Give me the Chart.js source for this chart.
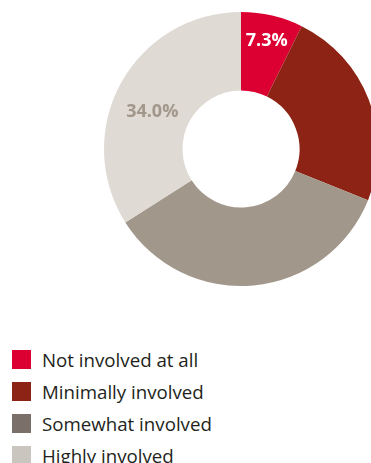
<!DOCTYPE html>
<html>
<head>
<meta charset="utf-8">
<script src="https://cdn.jsdelivr.net/npm/chart.js@4.4.1/dist/chart.umd.min.js"></script>
<style>
  body { margin: 0; background: #fff; }
  #page { position: relative; width: 371px; height: 463px; overflow: hidden; }
  #chartBox { position: absolute; left: 0; top: 0; width: 482px; height: 300px; }
  #legend { position: absolute; left: 12px; top: 350px; font-family: "Open Sans", sans-serif; font-size: 18.7px; color: #231f20; }
  .item { display: flex; align-items: center; height: 19px; margin-bottom: 13px; white-space: nowrap; }
  .swatch { width: 19px; height: 19px; margin-right: 11px; flex: none; }
</style>
</head>
<body>
<div id="page">
  <div id="chartBox"><canvas id="donut"></canvas></div>
  <div id="legend"></div>
</div>
<script>
  // Share of respondents by level of involvement
  const categories = ['Not involved at all', 'Minimally involved', 'Somewhat involved', 'Highly involved'];
  const shares = [7.3, 23.8, 34.9, 34.0];
  const sliceColors = ['#dc0032', '#8c2314', '#a2978b', '#e0dad4'];
  const legendColors = ['#dc0032', '#8c2314', '#7b6f69', '#cbc5c0'];
  // only these slices carry a printed value
  const shownLabels = [0, 3];

  // Draw the value labels on top of the slices
  const valueLabels = {
    id: 'valueLabels',
    afterDatasetsDraw(chart) {
      const ctx = chart.ctx;
      const meta = chart.getDatasetMeta(0);
      const radial = { 0: 0.67, 3: 0.48 };
      const along = { 0: 0.51, 3: 0.45 };
      const colors = { 0: '#ffffff', 3: '#a2978b' };
      ctx.save();
      ctx.font = 'bold 18px "Open Sans", sans-serif';
      ctx.textAlign = 'center';
      ctx.textBaseline = 'middle';
      shownLabels.forEach(i => {
        const arc = meta.data[i];
        const p = arc.getProps(['x', 'y', 'startAngle', 'endAngle', 'innerRadius', 'outerRadius'], true);
        const mid = p.startAngle + (p.endAngle - p.startAngle) * along[i];
        const r = p.innerRadius + (p.outerRadius - p.innerRadius) * radial[i];
        ctx.fillStyle = colors[i];
        ctx.fillText(shares[i].toFixed(1) + '%', p.x + Math.cos(mid) * r, p.y + Math.sin(mid) * r);
      });
      ctx.restore();
    }
  };

  const donutCtx = document.getElementById('donut').getContext('2d');
  const donutChart = new Chart(donutCtx, {
    type: 'doughnut',
    data: {
      labels: categories,
      datasets: [{
        data: shares,
        backgroundColor: sliceColors,
        borderWidth: 0
      }]
    },
    options: {
      responsive: true,
      maintainAspectRatio: false,
      animation: false,
      cutout: '42.7%',
      layout: { padding: { top: 12, bottom: 14 } },
      plugins: {
        legend: { display: false },
        tooltip: { enabled: false }
      }
    },
    plugins: [valueLabels]
  });

  // Legend below the chart
  const legendEl = document.getElementById('legend');
  categories.forEach((name, i) => {
    const row = document.createElement('div');
    row.className = 'item';
    row.innerHTML = `<span class="swatch" style="background:${legendColors[i]}"></span><span>${name}</span>`;
    legendEl.appendChild(row);
  });
</script>
</body>
</html>
